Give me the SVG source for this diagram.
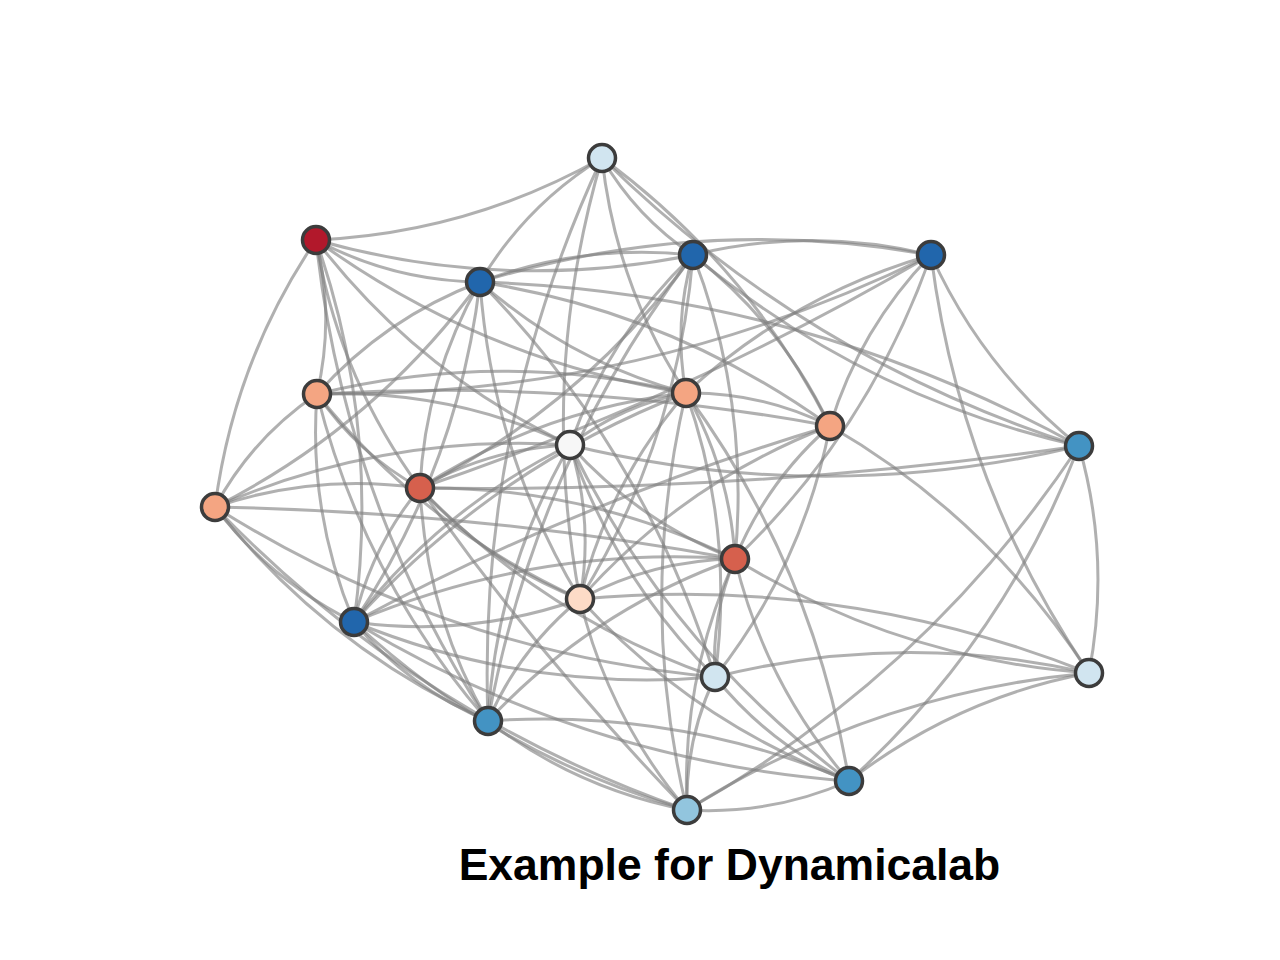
<svg xmlns="http://www.w3.org/2000/svg" width="1280" height="960" viewBox="0 0 1280 960">
<style>
.e{fill:none;stroke:#7f7f7f;stroke-opacity:0.62;stroke-width:3}
.n{stroke:#3c3c3c;stroke-width:3.5}
.t{font-family:"Liberation Sans",Arial,sans-serif;font-weight:bold;font-size:44.5px;fill:#000}
</style>
<rect width="1280" height="960" fill="#fff"/>
<g id="edges">
<path class="e" d="M602 158Q469 233 316 240"/>
<path class="e" d="M602 158Q526 205 480 282"/>
<path class="e" d="M602 158Q636 217 693 255"/>
<path class="e" d="M602 158Q616 286 686 393"/>
<path class="e" d="M602 158Q748 265 830 426"/>
<path class="e" d="M602 158Q806 359 1079 446"/>
<path class="e" d="M602 158Q538 376 580 599"/>
<path class="e" d="M602 158Q477 426 488 721"/>
<path class="e" d="M316 240Q393 281 480 282"/>
<path class="e" d="M316 240Q503 293 693 255"/>
<path class="e" d="M316 240Q335 317 317 394"/>
<path class="e" d="M316 240Q483 361 686 393"/>
<path class="e" d="M316 240Q418 373 570 445"/>
<path class="e" d="M316 240Q234 361 215 507"/>
<path class="e" d="M316 240Q338 376 420 488"/>
<path class="e" d="M316 240Q381 426 354 622"/>
<path class="e" d="M316 240Q344 501 488 721"/>
<path class="e" d="M480 282Q583 243 693 255"/>
<path class="e" d="M480 282Q702 214 931 255"/>
<path class="e" d="M480 282Q385 318 317 394"/>
<path class="e" d="M480 282Q570 362 686 393"/>
<path class="e" d="M480 282Q672 312 830 426"/>
<path class="e" d="M480 282Q799 292 1079 446"/>
<path class="e" d="M480 282Q375 426 215 507"/>
<path class="e" d="M480 282Q425 378 420 488"/>
<path class="e" d="M480 282Q492 453 580 599"/>
<path class="e" d="M480 282Q458 467 354 622"/>
<path class="e" d="M480 282Q645 451 715 677"/>
<path class="e" d="M693 255Q812 226 931 255"/>
<path class="e" d="M693 255Q673 323 686 393"/>
<path class="e" d="M693 255Q782 324 830 426"/>
<path class="e" d="M693 255Q609 335 570 445"/>
<path class="e" d="M693 255Q863 397 1079 446"/>
<path class="e" d="M693 255Q585 404 420 488"/>
<path class="e" d="M693 255Q750 402 735 559"/>
<path class="e" d="M693 255Q678 441 580 599"/>
<path class="e" d="M693 255Q535 463 488 721"/>
<path class="e" d="M931 255Q641 398 317 394"/>
<path class="e" d="M931 255Q792 295 686 393"/>
<path class="e" d="M931 255Q860 328 830 426"/>
<path class="e" d="M931 255Q982 368 1079 446"/>
<path class="e" d="M931 255Q687 398 420 488"/>
<path class="e" d="M931 255Q869 431 735 559"/>
<path class="e" d="M931 255Q960 483 1089 673"/>
<path class="e" d="M317 394Q501 349 686 393"/>
<path class="e" d="M317 394Q575 379 830 426"/>
<path class="e" d="M317 394Q450 389 570 445"/>
<path class="e" d="M317 394Q252 438 215 507"/>
<path class="e" d="M317 394Q357 453 420 488"/>
<path class="e" d="M317 394Q424 528 580 599"/>
<path class="e" d="M317 394Q308 512 354 622"/>
<path class="e" d="M317 394Q363 578 488 721"/>
<path class="e" d="M686 393Q762 392 830 426"/>
<path class="e" d="M686 393Q622 405 570 445"/>
<path class="e" d="M686 393Q542 409 420 488"/>
<path class="e" d="M686 393Q730 470 735 559"/>
<path class="e" d="M686 393Q608 483 580 599"/>
<path class="e" d="M686 393Q492 468 354 622"/>
<path class="e" d="M686 393Q735 531 715 677"/>
<path class="e" d="M686 393Q814 567 849 781"/>
<path class="e" d="M686 393Q637 602 687 810"/>
<path class="e" d="M830 426Q767 481 735 559"/>
<path class="e" d="M830 426Q684 482 580 599"/>
<path class="e" d="M830 426Q582 500 354 622"/>
<path class="e" d="M830 426Q803 565 715 677"/>
<path class="e" d="M830 426Q989 518 1089 673"/>
<path class="e" d="M570 445Q824 507 1079 446"/>
<path class="e" d="M215 507Q385 433 570 445"/>
<path class="e" d="M570 445Q490 448 420 488"/>
<path class="e" d="M570 445Q639 522 735 559"/>
<path class="e" d="M570 445Q594 521 580 599"/>
<path class="e" d="M570 445Q441 508 354 622"/>
<path class="e" d="M570 445Q615 578 715 677"/>
<path class="e" d="M570 445Q496 573 488 721"/>
<path class="e" d="M570 445Q669 646 849 781"/>
<path class="e" d="M1079 446Q751 493 420 488"/>
<path class="e" d="M1079 446Q1111 558 1089 673"/>
<path class="e" d="M1079 446Q1004 641 849 781"/>
<path class="e" d="M1079 446Q927 675 687 810"/>
<path class="e" d="M215 507Q315 473 420 488"/>
<path class="e" d="M215 507Q477 512 735 559"/>
<path class="e" d="M215 507Q271 581 354 622"/>
<path class="e" d="M215 507Q445 652 715 677"/>
<path class="e" d="M215 507Q326 647 488 721"/>
<path class="e" d="M215 507Q415 715 687 810"/>
<path class="e" d="M420 488Q586 486 735 559"/>
<path class="e" d="M420 488Q487 563 580 599"/>
<path class="e" d="M420 488Q371 547 354 622"/>
<path class="e" d="M420 488Q545 618 715 677"/>
<path class="e" d="M420 488Q426 613 488 721"/>
<path class="e" d="M420 488Q541 660 687 810"/>
<path class="e" d="M735 559Q653 560 580 599"/>
<path class="e" d="M735 559Q537 545 354 622"/>
<path class="e" d="M735 559Q711 616 715 677"/>
<path class="e" d="M735 559Q898 659 1089 673"/>
<path class="e" d="M735 559Q592 610 488 721"/>
<path class="e" d="M735 559Q765 684 849 781"/>
<path class="e" d="M735 559Q681 679 687 810"/>
<path class="e" d="M580 599Q470 638 354 622"/>
<path class="e" d="M580 599Q843 575 1089 673"/>
<path class="e" d="M580 599Q519 649 488 721"/>
<path class="e" d="M580 599Q693 722 849 781"/>
<path class="e" d="M580 599Q608 717 687 810"/>
<path class="e" d="M354 622Q528 693 715 677"/>
<path class="e" d="M354 622Q409 688 488 721"/>
<path class="e" d="M354 622Q582 761 849 781"/>
<path class="e" d="M354 622Q498 756 687 810"/>
<path class="e" d="M715 677Q902 630 1089 673"/>
<path class="e" d="M715 677Q770 745 849 781"/>
<path class="e" d="M715 677Q685 740 687 810"/>
<path class="e" d="M1089 673Q956 698 849 781"/>
<path class="e" d="M1089 673Q872 693 687 810"/>
<path class="e" d="M488 721Q676 708 849 781"/>
<path class="e" d="M488 721Q577 789 687 810"/>
<path class="e" d="M849 781Q772 815 687 810"/>
</g>
<g id="n1"><circle class="n" cx="602" cy="158" r="13.5" fill="#d1e5f0"/></g>
<g id="n2"><circle class="n" cx="316" cy="240" r="13.5" fill="#b2182b"/></g>
<g id="n3"><circle class="n" cx="480" cy="282" r="13.5" fill="#2166ac"/></g>
<g id="n4"><circle class="n" cx="693" cy="255" r="13.5" fill="#2166ac"/></g>
<g id="n5"><circle class="n" cx="931" cy="255" r="13.5" fill="#2166ac"/></g>
<g id="n6"><circle class="n" cx="317" cy="394" r="13.5" fill="#f4a582"/></g>
<g id="n7"><circle class="n" cx="686" cy="393" r="13.5" fill="#f4a582"/></g>
<g id="n8"><circle class="n" cx="830" cy="426" r="13.5" fill="#f4a582"/></g>
<g id="n9"><circle class="n" cx="570" cy="445" r="13.5" fill="#f7f7f7"/></g>
<g id="n10"><circle class="n" cx="1079" cy="446" r="13.5" fill="#4393c3"/></g>
<g id="n11"><circle class="n" cx="215" cy="507" r="13.5" fill="#f4a582"/></g>
<g id="n12"><circle class="n" cx="420" cy="488" r="13.5" fill="#d6604d"/></g>
<g id="n13"><circle class="n" cx="735" cy="559" r="13.5" fill="#d6604d"/></g>
<g id="n14"><circle class="n" cx="580" cy="599" r="13.5" fill="#fddbc7"/></g>
<g id="n15"><circle class="n" cx="354" cy="622" r="13.5" fill="#2166ac"/></g>
<g id="n16"><circle class="n" cx="715" cy="677" r="13.5" fill="#d1e5f0"/></g>
<g id="n17"><circle class="n" cx="1089" cy="673" r="13.5" fill="#d1e5f0"/></g>
<g id="n18"><circle class="n" cx="488" cy="721" r="13.5" fill="#4393c3"/></g>
<g id="n19"><circle class="n" cx="849" cy="781" r="13.5" fill="#4393c3"/></g>
<g id="n20"><circle class="n" cx="687" cy="810" r="13.5" fill="#92c5de"/></g>
<text class="t" x="729.5" y="880" text-anchor="middle">Example for Dynamicalab</text>
</svg>
